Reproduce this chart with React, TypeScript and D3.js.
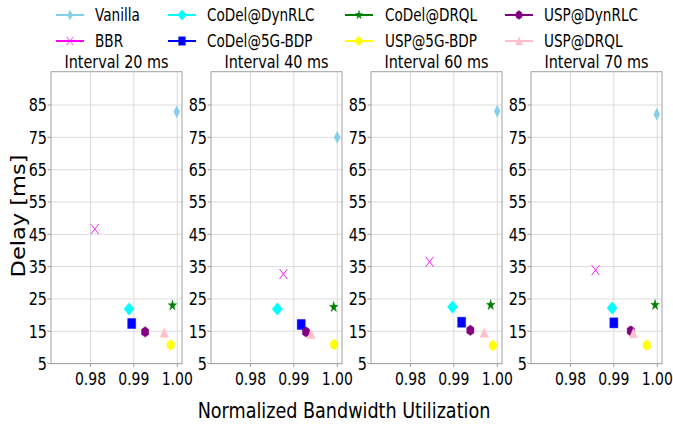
import React from "react";
import * as d3 from "d3";

// schemes in legend / drawing order
const schemes = [
  "Vanilla",
  "BBR",
  "CoDel@DynRLC",
  "CoDel@5G-BDP",
  "CoDel@DRQL",
  "USP@5G-BDP",
  "USP@DynRLC",
  "USP@DRQL",
];
const colors = ["#87ceeb", "#ff00ff", "#00ffff", "#0000ff", "#008000", "#ffff00", "#800080", "#ffc0cb"];
const markers = ["thinDiamond", "x", "diamond", "square", "star", "hexagon", "hexagon", "triangle"];

const intervals = ["Interval 20 ms", "Interval 40 ms", "Interval 60 ms", "Interval 70 ms"];

// normalized bandwidth utilization / delay per interval, same order as schemes
const bw20 = [0.9999, 0.981, 0.9889, 0.9895, 0.9989, 0.9985, 0.9926, 0.997];
const delay20 = [82.9, 46.6, 21.9, 17.4, 23.0, 10.8, 14.8, 14.6];
const bw40 = [1.0, 0.9876, 0.9862, 0.9917, 0.9992, 0.9993, 0.9928, 0.994];
const delay40 = [75.0, 32.7, 21.9, 17.1, 22.5, 10.9, 14.8, 14.1];
const bw60 = [1.0, 0.9844, 0.9897, 0.9918, 0.9985, 0.999, 0.9938, 0.997];
const delay60 = [83.1, 36.5, 22.5, 17.8, 23.1, 10.6, 15.3, 14.6];
const bw70 = [0.9999, 0.9858, 0.9896, 0.99, 0.9995, 0.9976, 0.9939, 0.9945];
const delay70 = [82.1, 33.9, 22.2, 17.6, 23.1, 10.7, 15.1, 14.4];

const xTicks = [0.98, 0.99, 1.0];
const yTicks = [5, 15, 25, 35, 45, 55, 65, 75, 85];

const panels = [
  { title: intervals[0], bw: bw20, delay: delay20 },
  { title: intervals[1], bw: bw40, delay: delay40 },
  { title: intervals[2], bw: bw60, delay: delay60 },
  { title: intervals[3], bw: bw70, delay: delay70 },
];

const W = 673;
const H = 426;
const FONT = "DejaVu Sans";
const SQ = 0.8; // horizontal squeeze of the source image

function star(ro: number, ri: number) {
  const pts = [];
  for (let i = 0; i < 10; i++) {
    const r = i % 2 === 0 ? ro : ri;
    const a = (Math.PI / 5) * i - Math.PI / 2;
    pts.push([r * Math.cos(a), r * Math.sin(a)]);
  }
  return "M" + pts.map((p) => p.join(",")).join("L") + "Z";
}

function hexagon(r: number) {
  const pts = [];
  for (let i = 0; i < 6; i++) {
    const a = (Math.PI / 3) * i - Math.PI / 2;
    pts.push([r * Math.cos(a), r * Math.sin(a)]);
  }
  return "M" + pts.map((p) => p.join(",")).join("L") + "Z";
}

function Marker({ kind, color, x, y, k = 1 }) {
  const t = `translate(${x},${y}) scale(${SQ * k},${k})`;
  if (kind === "x") {
    return (
      <path transform={t} d="M-5,-5L5,5M-5,5L5,-5" stroke={color} strokeWidth={1} fill="none" />
    );
  }
  let d = "";
  if (kind === "thinDiamond") d = "M0,-6L3.8,0L0,6L-3.8,0Z";
  else if (kind === "diamond") d = "M0,-6.2L6.4,0L0,6.2L-6.4,0Z";
  else if (kind === "square") d = "M-5,-5H5V5H-5Z";
  else if (kind === "star") d = star(5.6, 2.2);
  else if (kind === "hexagon") d = hexagon(5.2);
  else if (kind === "triangle") d = "M0,-4.8L5.2,4.6L-5.2,4.6Z";
  return <path transform={t} d={d} fill={color} stroke={color} strokeWidth={0.5} />;
}

function Text({ x, y, anchor = "start", size, children, rotate = 0, squeeze = SQ }) {
  const t = rotate
    ? `translate(${x},${y}) scale(${squeeze},1) rotate(${rotate})`
    : `translate(${x},${y}) scale(${squeeze},1)`;
  return (
    <text transform={t} textAnchor={anchor} fontFamily={FONT} fontSize={size} fill="#000">
      {children}
    </text>
  );
}

const legendCols = [
  { lx: 56, tx: 95 },
  { lx: 168, tx: 207 },
  { lx: 345, tx: 385 },
  { lx: 505, tx: 544 },
];

export default function App() {
  const top = 71.7;
  const bottom = 363.6;
  const pw = 131;
  const lefts = [51, 211, 371, 531];

  const y = d3.scaleLinear().domain([5, 95.3]).range([bottom, top]);

  return (
    <svg
      width={W}
      height={H}
      style={{ position: "absolute", left: 0, top: 0, background: "#fff" }}
    >
      {/* legend */}
      {schemes.map((s, i) => {
        const col = legendCols[Math.floor(i / 2)];
        const ly = i % 2 === 0 ? 15 : 41;
        return (
          <g key={s}>
            <line x1={col.lx} x2={col.lx + 28} y1={ly} y2={ly} stroke={colors[i]} strokeWidth={2} />
            <Marker kind={markers[i]} color={colors[i]} x={col.lx + 14} y={ly} k={0.85} />
            <Text x={col.tx} y={ly + 6} size={17}>
              {s}
            </Text>
          </g>
        );
      })}

      {panels.map((p, pi) => {
        const left = lefts[pi];
        const x = d3.scaleLinear().domain([0.9709, 1.0011]).range([left, left + pw]);
        return (
          <g key={p.title}>
            {xTicks.map((t) => (
              <line key={"gx" + t} x1={x(t)} x2={x(t)} y1={top} y2={bottom} stroke="#dcdcdc" strokeWidth={1} />
            ))}
            {yTicks.map((t) => (
              <line key={"gy" + t} x1={left} x2={left + pw} y1={y(t)} y2={y(t)} stroke="#dcdcdc" strokeWidth={1} />
            ))}
            <rect x={left} y={top} width={pw} height={bottom - top} fill="none" stroke="#a0a0a0" strokeWidth={1} />
            {yTicks.map((t) => (
              <g key={"ty" + t}>
                <line x1={left - 3.5} x2={left} y1={y(t)} y2={y(t)} stroke="#a0a0a0" />
                <Text x={left - 4} y={y(t) + 6.5} anchor="end" size={18}>
                  {String(t)}
                </Text>
              </g>
            ))}
            {xTicks.map((t) => (
              <g key={"tx" + t}>
                <line x1={x(t)} x2={x(t)} y1={bottom} y2={bottom + 3.5} stroke="#a0a0a0" />
                <Text x={x(t)} y={384.5} anchor="middle" size={17.5}>
                  {t.toFixed(2)}
                </Text>
              </g>
            ))}
            <Text x={left + pw / 2} y={67.5} anchor="middle" size={18}>
              {p.title}
            </Text>
            {schemes.map((s, i) => (
              <Marker key={s} kind={markers[i]} color={colors[i]} x={x(p.bw[i])} y={y(p.delay[i])} />
            ))}
          </g>
        );
      })}

      <Text x={344} y={418} anchor="middle" size={22}>
        Normalized Bandwidth Utilization
      </Text>
      <Text x={24.5} y={216} anchor="middle" size={22.5} rotate={-90} squeeze={0.85}>
        Delay [ms]
      </Text>
    </svg>
  );
}
